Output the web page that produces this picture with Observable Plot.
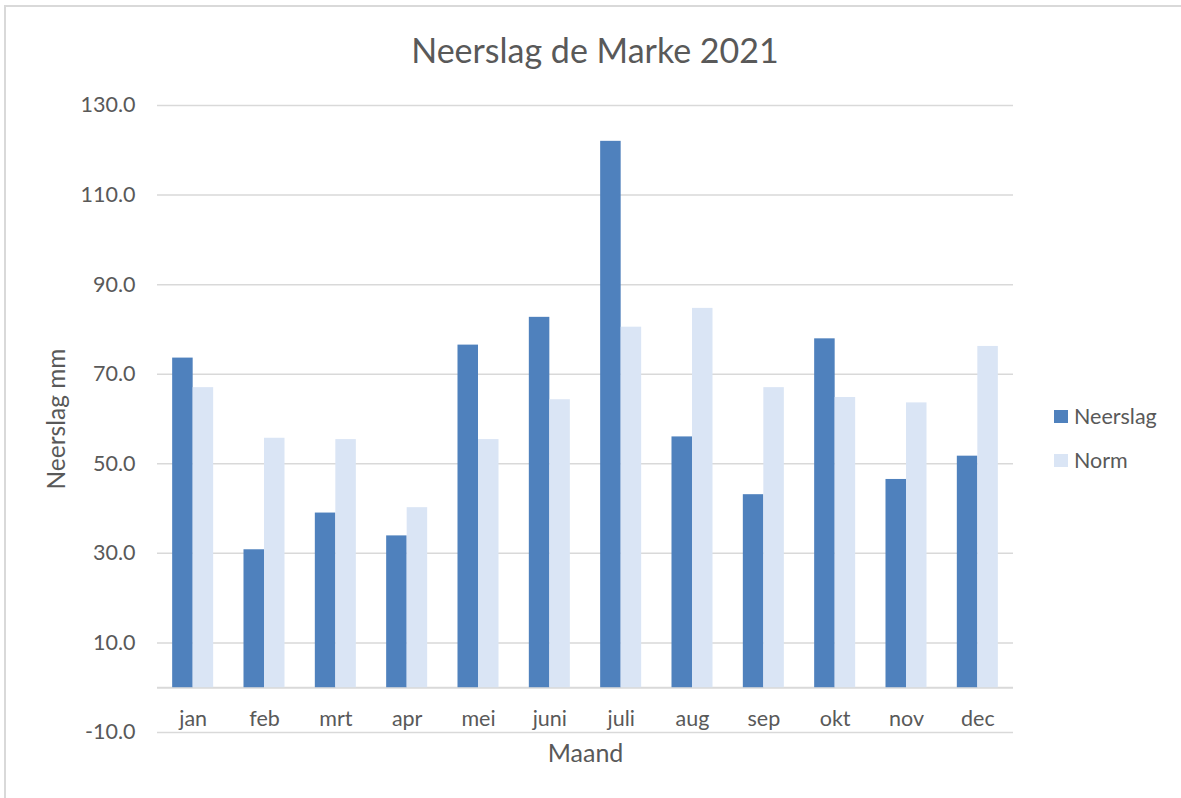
<!DOCTYPE html>
<html>
<head>
<meta charset="utf-8">
<script src="https://cdn.jsdelivr.net/npm/d3@7"></script>
<script src="https://cdn.jsdelivr.net/npm/@observablehq/plot@0.6"></script>
<style>
  html, body { margin: 0; padding: 0; background: #fff; }
  #chart { position: relative; width: 1181px; height: 798px; overflow: hidden; font-family: Lato, "Open Sans", sans-serif; color: #595959; }
  #frame { position: absolute; left: 4px; top: 5px; right: -10px; bottom: -10px; border-left: 2px solid #d9d9d9; border-top: 2px solid #d9d9d9; }
  #title { position: absolute; left: 0; width: 1190px; top: 30px; text-align: center; font-size: 34px; line-height: 40px; color: #595959; }
  #plot { position: absolute; left: 0; top: 0; }
  #legend { position: absolute; left: 1054px; top: 394px; font-size: 21.5px; color: #595959; }
  #legend .item { display: flex; align-items: center; height: 44px; }
  #legend .sw { width: 14px; height: 13px; margin-right: 6px; }
</style>
</head>
<body>
<div id="chart">
  <div id="frame"></div>
  <div id="title">Neerslag de Marke 2021</div>
  <div id="plot"></div>
  <div id="legend"></div>
</div>
<script>
const months = ["jan","feb","mrt","apr","mei","juni","juli","aug","sep","okt","nov","dec"];
const neerslag = [73.6, 30.8, 39.0, 33.9, 76.5, 82.7, 122.0, 56.0, 43.1, 77.9, 46.5, 51.7];
const norm = [67.0, 55.7, 55.4, 40.2, 55.4, 64.3, 80.5, 84.7, 67.0, 64.8, 63.6, 76.2];
const seriesNames = ["Neerslag", "Norm"];
const seriesColors = ["#4f81bd", "#dae5f5"];
const yTicks = [-10, 10, 30, 50, 70, 90, 110, 130];

const W = 1181, H = 798;
const mL = 157, mR = 168, mT = 105, mB = 66;
const step = (W - mL - mR) / months.length;
const barW = step * 0.2875;
const outer = (step - 2 * barW) / 2;

const dataN = months.map((m, i) => ({month: m, value: neerslag[i]}));
const dataM = months.map((m, i) => ({month: m, value: norm[i]}));

const plot = Plot.plot({
  width: W, height: H,
  marginLeft: mL, marginRight: mR, marginTop: mT, marginBottom: mB,
  style: {fontFamily: "Lato, 'Open Sans', sans-serif", color: "#595959", background: "transparent"},
  x: {domain: months, padding: 0, round: false},
  y: {domain: [-10, 130]},
  marks: [
    Plot.gridY(yTicks, {stroke: "#d9d9d9", strokeOpacity: 1, strokeWidth: 1.5}),
    Plot.ruleY([0], {stroke: "#d9d9d9", strokeWidth: 2}),
    Plot.barY(dataN, {x: "month", y: "value", fill: seriesColors[0], insetLeft: outer, insetRight: outer + barW}),
    Plot.barY(dataM, {x: "month", y: "value", fill: seriesColors[1], insetLeft: outer + barW, insetRight: outer}),
    Plot.axisY(yTicks, {tickSize: 0, tickPadding: 22, fontSize: 21.5, tickFormat: d => d.toFixed(1), label: null, fill: "#595959"}),
    Plot.axisY({ticks: [], label: "Neerslag mm", labelAnchor: "center", labelArrow: "none", labelOffset: 110, fontSize: 24.5, fill: "#595959"}),
    Plot.axisX({tickSize: 0, tickPadding: 0, dy: -22, fontSize: 21.5, label: null, fill: "#595959"}),
    Plot.axisX({ticks: [], label: "Maand", labelAnchor: "center", labelArrow: "none", labelOffset: 29, fontSize: 25, fill: "#595959"})
  ]
});
document.getElementById("plot").appendChild(plot);

const leg = document.getElementById("legend");
seriesNames.forEach((n, i) => {
  const it = document.createElement("div");
  it.className = "item";
  const sw = document.createElement("span");
  sw.className = "sw";
  sw.style.background = seriesColors[i];
  const tx = document.createElement("span");
  tx.textContent = n;
  it.appendChild(sw); it.appendChild(tx);
  leg.appendChild(it);
});
</script>
</body>
</html>
